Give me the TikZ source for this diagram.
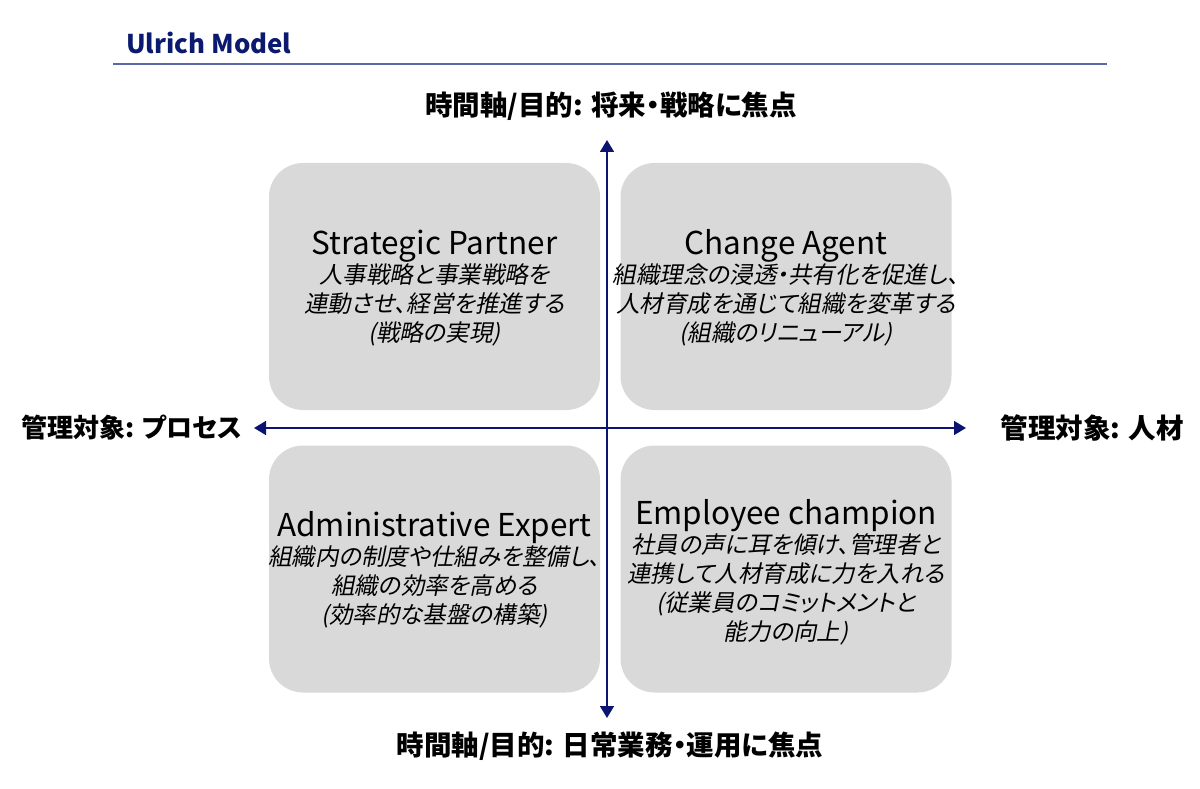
\documentclass[tikz,border=0pt]{standalone}
\usepackage{fontspec}
\setmainfont{Noto Sans CJK JP}[RawFeature=+palt]
\newfontfamily\jpit{Noto Sans CJK JP}[FakeSlant=0.2,RawFeature=+palt]
\usetikzlibrary{arrows.meta}
\definecolor{navy}{HTML}{0B1470}
\definecolor{titleblue}{HTML}{0B1A6E}
\definecolor{rulecol}{HTML}{5B67A6}
\definecolor{boxgray}{HTML}{D9D9D9}
\tikzset{
  quad/.style={fill=boxgray, draw=none, rounded corners=34pt, minimum width=331pt, minimum height=247pt, inner sep=0pt},
  quadtext/.style={align=center, inner sep=0pt, font=\jpit\fontsize{23.5}{29}\selectfont},
  axislabel/.style={font=\bfseries\fontsize{27.5}{30}\selectfont, inner sep=0pt},
  axis/.style={navy, line width=1.6pt, {Triangle[width=14pt,length=12pt]}-{Triangle[width=14pt,length=12pt]}},
}
\newcommand{\qhead}[1]{{\normalfont\fontsize{31.5}{35}\selectfont #1}}
\begin{document}
\begin{tikzpicture}[x=1pt,y=-1pt]
\useasboundingbox (0,0) rectangle (1200,789);
% title
\node[anchor=west, text=titleblue, font=\bfseries\fontsize{25.8}{28}\selectfont, inner sep=0pt] (title) at (126,43) {Ulrich Model};
\coordinate (ruleL) at (113,64);
\coordinate (ruleR) at (1107,64);
\draw[rulecol, line width=1.2pt] (ruleL) -- (ruleR);
% quadrants
\node[quad] (tl) at (434.5,286.5) {};
\node[quad] (tr) at (786,286.5) {};
\node[quad] (bl) at (434.5,569) {};
\node[quad] (br) at (786,569) {};
% axes
\coordinate (vtop) at (607,140);
\coordinate (vbot) at (607,718);
\coordinate (hleft) at (254,428);
\coordinate (hright) at (966,428);
\draw[axis] (vbot) -- (vtop);
\draw[axis] (hleft) -- (hright);
% axis labels
\node[axislabel] (ltop) at (611,106) {時間軸/目的: 将来・戦略に焦点};
\node[axislabel] (lbot) at (610,746) {時間軸/目的: 日常業務・運用に焦点};
\node[axislabel, anchor=west, font=\bfseries\fontsize{26}{30}\selectfont] (lleft) at (21,428) {管理対象: プロセス};
\node[axislabel, anchor=east] (lright) at (1184,428) {管理対象: 人材};
% quadrant texts
\node[quadtext] (tltext) at (434.5,288) {\qhead{Strategic Partner}\\人事戦略と事業戦略を\\連動させ、経営を推進する\\(戦略の実現)};
\node[quadtext] (trtext) at (786,288) {\qhead{Change Agent}\\組織理念の浸透・共有化を促進し、\\人材育成を通じて組織を変革する\\(組織のリニューアル)};
\node[quadtext] (bltext) at (434.5,570) {\qhead{Administrative Expert}\\組織内の制度や仕組みを整備し、\\組織の効率を高める\\(効率的な基盤の構築)};
\node[quadtext] (brtext) at (786,572) {\qhead{Employee champion}\\社員の声に耳を傾け、管理者と\\連携して人材育成に力を入れる\\(従業員のコミットメントと\\能力の向上)};
\end{tikzpicture}
\end{document}
